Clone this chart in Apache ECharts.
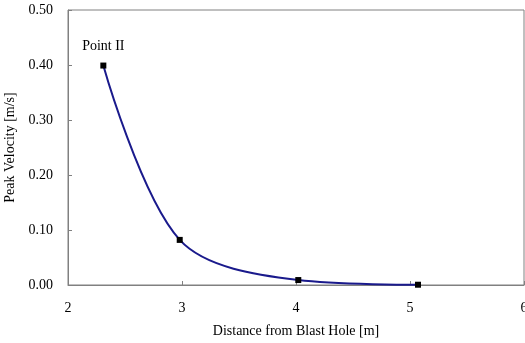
<!DOCTYPE html>
<html><head><meta charset="utf-8">
<script src="https://cdn.jsdelivr.net/npm/echarts@6/dist/echarts.min.js"></script>
<style>html,body{margin:0;padding:0;background:#fff}#c{width:525px;height:343px}</style>
</head><body><div id="c"></div>
<script>
const distances = [2.31, 2.98, 4.02, 5.07];
const velocities = [0.399, 0.082, 0.009, 0.0005];
const pointLabels = ['Point II', '', '', ''];

const font = 'Liberation Serif, Times New Roman, serif';
const chart = echarts.init(document.getElementById('c'));
chart.setOption({
  animation: false,
  backgroundColor: '#fff',
  grid: {left: 68, top: 10, right: 1, bottom: 58, show: true, borderColor: '#808080', borderWidth: 1,
         containLabel: false, outerBoundsMode: 'none'},
  xAxis: {
    type: 'value', min: 2, max: 6, interval: 1,
    name: 'Distance from Blast Hole [m]', nameLocation: 'middle', nameGap: 39,
    nameTextStyle: {fontFamily: font, fontSize: 14, color: '#000'},
    axisLine: {lineStyle: {color: '#808080'}},
    axisTick: {inside: true, length: 4, lineStyle: {color: '#808080'}},
    axisLabel: {fontFamily: font, fontSize: 14, color: '#000', margin: 16},
    splitLine: {show: false}
  },
  yAxis: {
    type: 'value', min: 0, max: 0.5, interval: 0.1,
    name: 'Peak Velocity [m/s]', nameLocation: 'middle', nameGap: 46,
    nameTextStyle: {fontFamily: font, fontSize: 14, color: '#000'},
    axisLine: {show: true, lineStyle: {color: '#808080'}},
    axisTick: {show: true, inside: true, length: 4, lineStyle: {color: '#808080'}},
    axisLabel: {fontFamily: font, fontSize: 14, color: '#000', margin: 15, formatter: v => v.toFixed(2)},
    splitLine: {show: false}
  },
  series: [{
    type: 'line',
    data: distances.map((d, i) => ({value: [d, velocities[i]], name: pointLabels[i]})),
    smooth: 0.33,
    symbol: 'rect', symbolSize: 6,
    itemStyle: {color: '#000'},
    lineStyle: {color: '#1a1a8c', width: 2},
    label: {show: true, position: 'top', distance: 9, formatter: p => p.name,
            fontFamily: font, fontSize: 14, color: '#000'}
  }]
});
</script></body></html>
